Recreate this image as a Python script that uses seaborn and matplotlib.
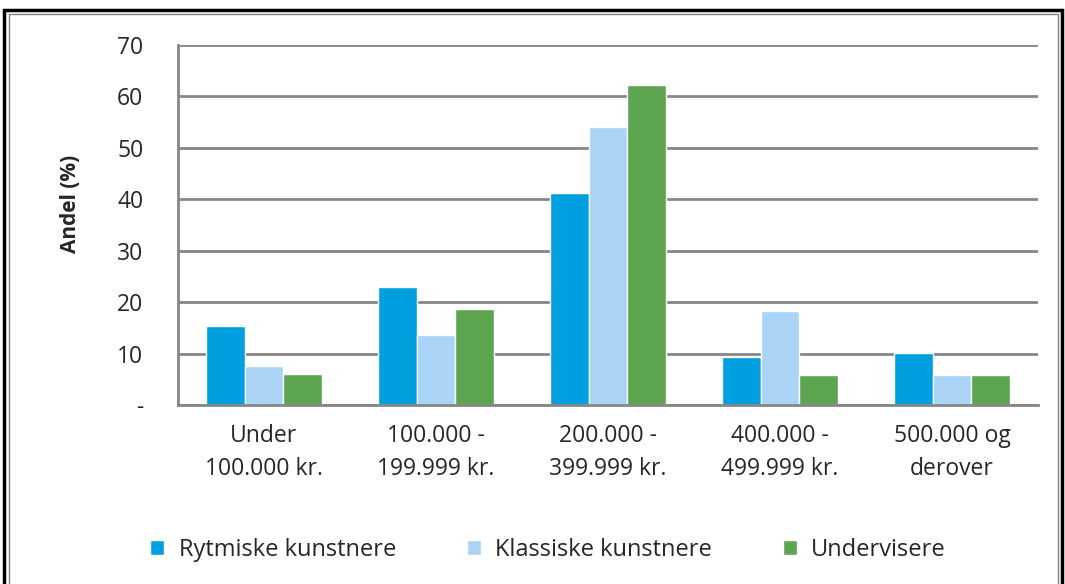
import seaborn as sns
import matplotlib.pyplot as plt
import pandas as pd
from matplotlib.patches import Rectangle

categories = ["Under\n100.000 kr.", "100.000 -\n199.999 kr.", "200.000 -\n399.999 kr.",
              "400.000 -\n499.999 kr.", "500.000 og\nderover"]
series = ["Rytmiske kunstnere", "Klassiske kunstnere", "Undervisere"]
rytmiske = [15.3, 23.0, 41.3, 9.4, 10.2]
klassiske = [7.6, 13.6, 54.0, 18.2, 5.9]
undervisere = [6.0, 18.6, 62.3, 5.9, 5.9]
colors = ["#009fdf", "#a9d4f5", "#5da550"]

rows = []
for name, vals in zip(series, [rytmiske, klassiske, undervisere]):
    for cat, v in zip(categories, vals):
        rows.append({"kategori": cat, "serie": name, "andel": v})
df = pd.DataFrame(rows)

sns.set_style("white")
plt.rcParams["font.family"] = ["Open Sans", "DejaVu Sans"]

fig = plt.figure(figsize=(10.65, 5.84), dpi=100)
ax = fig.add_axes([178 / 1065, 1 - 405 / 584, 860 / 1065, 360 / 584])

sns.barplot(data=df, x="kategori", y="andel", hue="serie", palette=colors,
            width=0.68, gap=0, saturation=1, ax=ax, legend=True)

ax.set_ylim(0, 70)
ax.set_xlim(-0.5, 4.5)
ax.set_yticks(range(0, 71, 10))
ax.set_yticklabels(["-"] + [str(v) for v in range(10, 71, 10)], fontsize=16.5)
ax.tick_params(axis="y", length=0, pad=25)
ax.tick_params(axis="x", length=0, pad=14, labelsize=16.5)
for lab in ax.get_xticklabels():
    lab.set_linespacing(1.45)
ax.set_xlabel("")
ax.set_ylabel("Andel (%)", fontsize=15, fontweight="bold")
ax.yaxis.set_label_coords(-97 / 860, (405 - 204) / 360)
ax.yaxis.grid(True, color="#868686", linewidth=2)
ax.set_axisbelow(True)
for s in ["top", "right"]:
    ax.spines[s].set_visible(False)
for s in ["left", "bottom"]:
    ax.spines[s].set_color("#868686")
    ax.spines[s].set_linewidth(2)

ax.legend(loc="center", bbox_to_anchor=(548 / 1065, 1 - 550 / 584),
          bbox_transform=fig.transFigure, ncol=3, frameon=False, fontsize=17,
          handlelength=0.6, handleheight=0.6, handletextpad=0.6, columnspacing=3.0)

fig.patches.append(Rectangle((4 / 1065, -0.1), 1058 / 1065, 1.1 - 10 / 584,
                             transform=fig.transFigure, fill=False,
                             edgecolor="black", linewidth=2.5))
fig.patches.append(Rectangle((9 / 1065, -0.1), 1049 / 1065, 1.1 - 14 / 584,
                             transform=fig.transFigure, fill=False,
                             edgecolor="#808080", linewidth=1))

fig.savefig("out.png", dpi=100)
